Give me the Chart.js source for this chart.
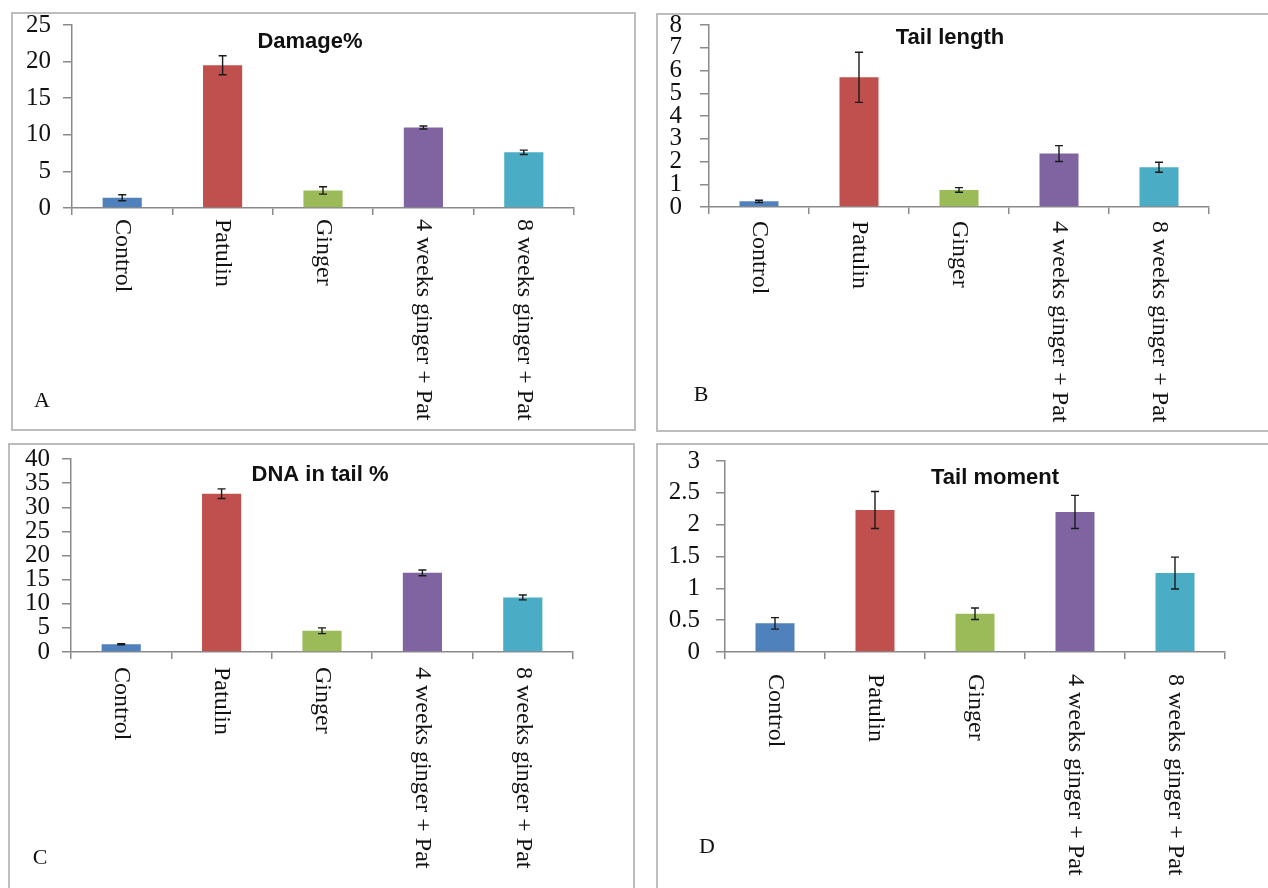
<!DOCTYPE html>
<html>
<head>
<meta charset="utf-8">
<script src="https://cdn.jsdelivr.net/npm/chart.js@4/dist/chart.umd.min.js"></script>
<style>
  body { margin: 0; background: #fff; width: 1268px; height: 888px; overflow: hidden; position: relative; }
  .panel { position: absolute; border: 2px solid #bdbdbd; box-sizing: border-box; overflow: hidden; }
  .panel canvas { position: absolute; left: -2px; top: -2px; }
</style>
</head>
<body>
<div class="panel" id="pA"><canvas id="cA"></canvas></div>
<div class="panel" id="pB"><canvas id="cB"></canvas></div>
<div class="panel" id="pC"><canvas id="cC"></canvas></div>
<div class="panel" id="pD"><canvas id="cD"></canvas></div>
<script>
const categories = ['Control', 'Patulin', 'Ginger', '4 weeks ginger + Pat', '8 weeks ginger + Pat'];
const barColors = ['#4f81bd', '#c0504d', '#9bbb59', '#8064a2', '#4bacc6'];

const damageValues = [1.4, 19.5, 2.4, 11.0, 7.6];
const damageErrors = [0.4, 1.3, 0.5, 0.2, 0.3];

const tailLengthValues = [0.25, 5.7, 0.75, 2.35, 1.75];
const tailLengthErrors = [0.05, 1.1, 0.1, 0.35, 0.22];

const dnaTailValues = [1.6, 32.8, 4.4, 16.4, 11.3];
const dnaTailErrors = [0.1, 1.0, 0.6, 0.6, 0.5];

const tailMomentValues = [0.45, 2.23, 0.6, 2.2, 1.24];
const tailMomentErrors = [0.09, 0.29, 0.09, 0.26, 0.25];

const serif = '"Liberation Serif", "Times New Roman", serif';
const sans = '"Liberation Sans", Arial, sans-serif';
const axisGray = '#8a8a8a';

// error bars, rotated category labels, title and panel letter
const panelExtras = {
    id: 'panelExtras',
    afterDatasetsDraw(chart, args, opts) {
        const ctx = chart.ctx;
        const xs = chart.scales.x;
        const ys = chart.scales.y;
        const data = chart.data.datasets[0].data;

        ctx.save();
        ctx.strokeStyle = '#1a1a1a';
        ctx.lineWidth = 1.4;
        opts.errors.forEach((e, i) => {
            const cx = xs.getPixelForValue(i);
            const top = ys.getPixelForValue(data[i] + e);
            const bot = ys.getPixelForValue(data[i] - e);
            ctx.beginPath();
            ctx.moveTo(cx, top); ctx.lineTo(cx, bot);
            ctx.moveTo(cx - 4, top); ctx.lineTo(cx + 4, top);
            ctx.moveTo(cx - 4, bot); ctx.lineTo(cx + 4, bot);
            ctx.stroke();
        });

        ctx.fillStyle = '#111';
        ctx.font = '24px ' + serif;
        ctx.textAlign = 'left';
        ctx.textBaseline = 'middle';
        chart.data.labels.forEach((lab, i) => {
            ctx.save();
            ctx.translate(xs.getPixelForValue(i), xs.top + opts.labelGap);
            ctx.rotate(Math.PI / 2);
            ctx.fillText(lab, 0, 0);
            ctx.restore();
        });

        ctx.font = 'bold 22px ' + sans;
        ctx.textAlign = 'center';
        ctx.fillText(opts.title, opts.titleX, opts.titleY);

        ctx.font = '22px ' + serif;
        ctx.fillText(opts.letter, opts.letterX, opts.letterY);
        ctx.restore();
    }
};

const panels = [
    { id: 'A', title: 'Damage%', values: damageValues, errors: damageErrors, max: 25, step: 5,
      box: [11, 12, 625, 419], area: [61, 13, 563, 196], tickPad: 12,
      titleX: 299, titleY: 30, letterX: 31, letterY: 389, labelGap: 11 },
    { id: 'B', title: 'Tail length', values: tailLengthValues, errors: tailLengthErrors, max: 8, step: 1,
      box: [656, 13, 625, 419], area: [53, 12, 553, 194], tickPad: 18,
      titleX: 294, titleY: 25, letterX: 45, letterY: 382, labelGap: 14 },
    { id: 'C', title: 'DNA in tail %', values: dnaTailValues, errors: dnaTailErrors, max: 40, step: 5,
      box: [8, 443, 627, 455], area: [63, 16, 565, 209], tickPad: 12,
      titleX: 312, titleY: 32, letterX: 32, letterY: 415, labelGap: 15 },
    { id: 'D', title: 'Tail moment', values: tailMomentValues, errors: tailMomentErrors, max: 3, step: 0.5,
      box: [656, 443, 625, 455], area: [69, 18, 569, 209], tickPad: 16,
      titleX: 339, titleY: 35, letterX: 51, letterY: 404, labelGap: 22 }
];

const makeChart = (p) => {
    const wrap = document.getElementById('p' + p.id);
    const canvas = document.getElementById('c' + p.id);
    const [bx, by, bw, bh] = p.box;
    const [left, top, right, bottom] = p.area;
    wrap.style.left = bx + 'px';
    wrap.style.top = by + 'px';
    wrap.style.width = bw + 'px';
    wrap.style.height = bh + 'px';
    canvas.width = bw;
    canvas.height = bh;

    return new Chart(canvas, {
        type: 'bar',
        data: {
            labels: categories,
            datasets: [{
                data: p.values,
                backgroundColor: barColors,
                borderWidth: 0,
                categoryPercentage: 1,
                barPercentage: 0.39
            }]
        },
        options: {
            responsive: false,
            animation: false,
            layout: { padding: { left: 0, top: top, right: bw - right, bottom: 0 } },
            plugins: {
                legend: { display: false },
                tooltip: { enabled: false },
                panelExtras: {
                    errors: p.errors, title: p.title, letter: p.id,
                    titleX: p.titleX, titleY: p.titleY,
                    letterX: p.letterX, letterY: p.letterY, labelGap: p.labelGap
                }
            },
            scales: {
                x: {
                    ticks: { display: false },
                    grid: { offset: true, drawOnChartArea: false, drawTicks: true, tickLength: 7, color: axisGray, lineWidth: 1.5 },
                    border: { color: axisGray, width: 1.5 },
                    afterFit: (s) => { s.height = bh - bottom; s.paddingLeft = 0; s.paddingRight = 0; }
                },
                y: {
                    min: 0,
                    max: p.max,
                    ticks: {
                        stepSize: p.step,
                        autoSkip: false,
                        padding: p.tickPad,
                        color: '#111',
                        font: { family: serif, size: 25 },
                        callback: (v) => String(v)
                    },
                    grid: { drawOnChartArea: false, drawTicks: true, tickLength: 9, color: axisGray, lineWidth: 1.5 },
                    border: { color: axisGray, width: 1.5 },
                    afterFit: (s) => { s.width = left; s.paddingTop = 0; s.paddingBottom = 0; }
                }
            }
        },
        plugins: [panelExtras]
    });
};

panels.forEach(makeChart);
</script>
</body>
</html>
